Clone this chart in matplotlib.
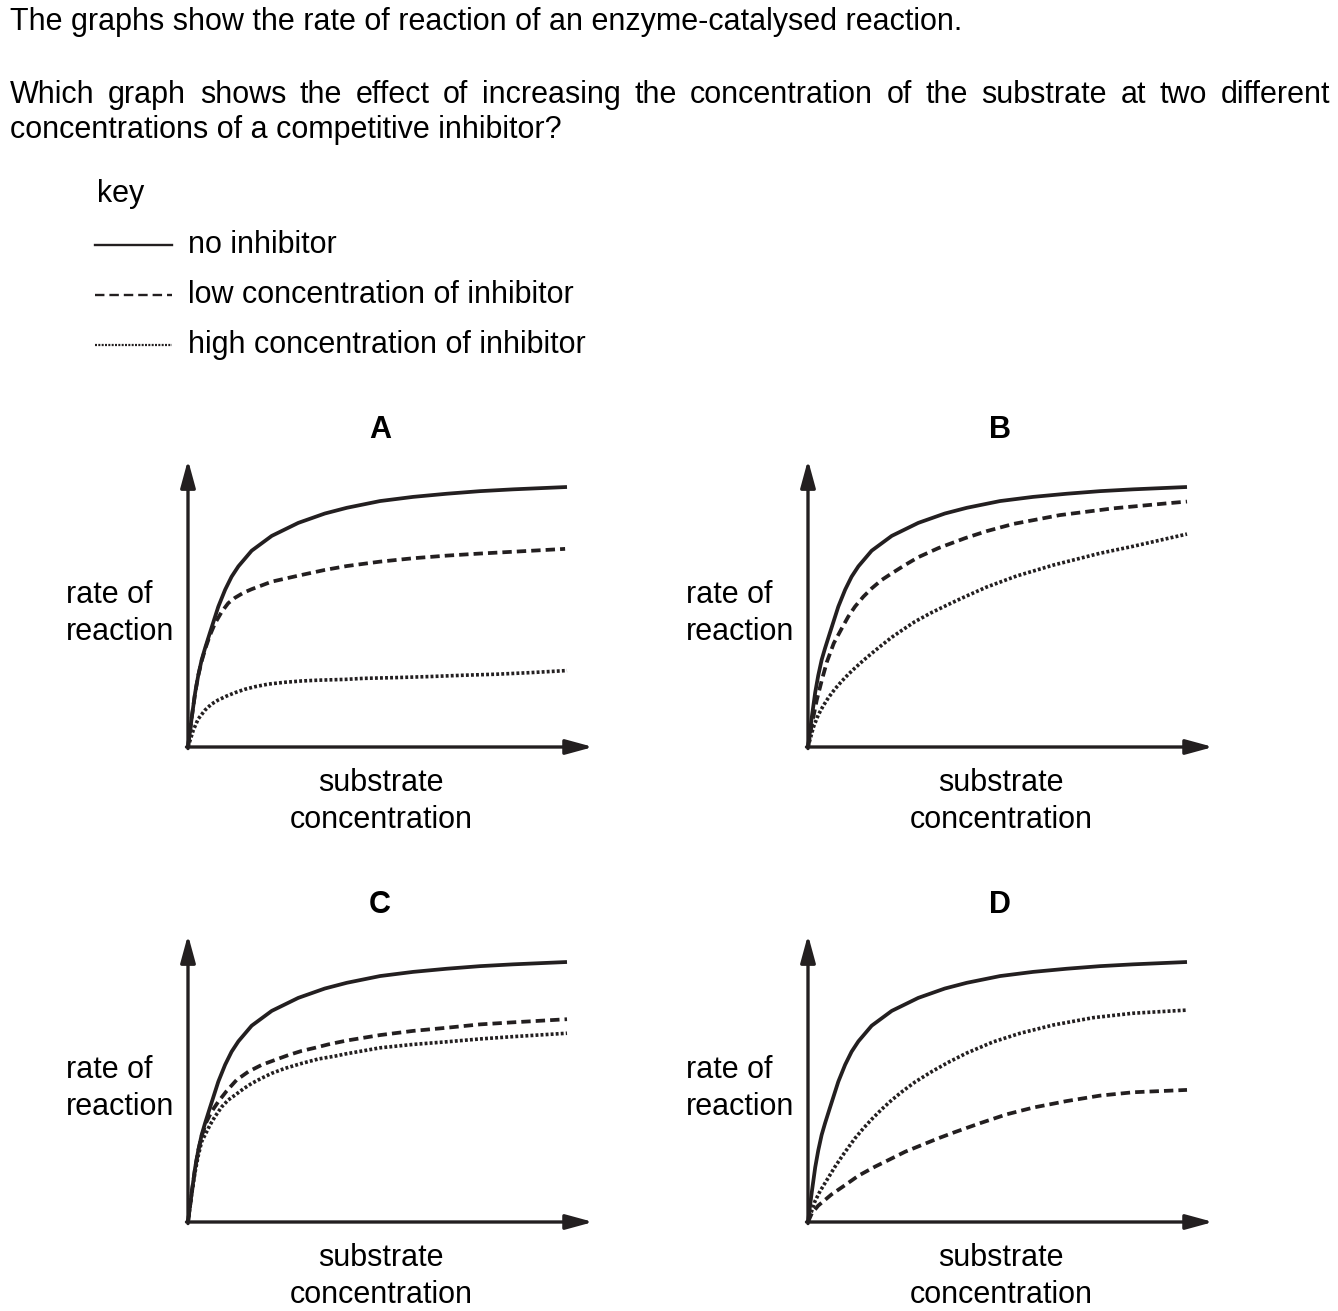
import matplotlib.pyplot as plt

plt.rcParams["font.family"] = ["Liberation Sans", "DejaVu Sans"]

W, H = 1338, 1311
INK = "#231f20"
FONT_SIZE = 22

INTRO = "The graphs show the rate of reaction of an enzyme-catalysed reaction."
QUESTION_1 = "Which graph shows the effect of increasing the concentration of the substrate at two different"
QUESTION_2 = "concentrations of a competitive inhibitor?"
KEY_LABELS = [
    "no inhibitor",
    "low concentration of inhibitor",
    "high concentration of inhibitor",
]
PANEL_NAMES = ["A", "B", "C", "D"]

# curves: (substrate concentration, rate), both on a 0-100 scale
NO_INHIBITOR = [
    (0, 0), (1.0, 11.5), (1.9, 21), (2.7, 27.5), (3.6, 33.5), (4.5, 38),
    (5.8, 44), (8.0, 54), (9.8, 60.5), (11.5, 65.5), (13.3, 69.5),
    (16.8, 75.5), (22.1, 81.2), (29.1, 86.2), (36.1, 89.8), (41.9, 92),
    (50.7, 94.6), (59.4, 96.2), (68.2, 97.4), (77.0, 98.4), (85.8, 99.1),
    (100, 100),
]

A_LOW = [
    (0, 0), (1.0, 11.5), (1.9, 21), (2.7, 27.5), (3.6, 33), (4.6, 38),
    (5.8, 43), (7.1, 47.5), (8.9, 52), (10.6, 55.3), (12.4, 57.4),
    (14.6, 59.3), (16.8, 60.7), (22.1, 63.6), (29.1, 65.9), (36.1, 68.1),
    (41.9, 69.6), (50.7, 71.3), (59.4, 72.6), (68.2, 73.6), (77.0, 74.4),
    (85.8, 75.1), (99.5, 76.2),
]
A_HIGH = [
    (0, 0), (1.4, 6.5), (2.7, 10.8), (4.5, 14.2), (6.2, 16.5), (8.0, 18.1),
    (10.2, 19.6), (12.4, 20.9), (15.0, 22.2), (17.7, 23.2), (21.2, 24.2),
    (25.6, 24.9), (30.0, 25.4), (34.4, 25.7), (41.4, 26), (46.3, 26.4),
    (55.1, 26.7), (63.9, 27.1), (72.7, 27.6), (81.5, 28), (90.3, 28.6),
    (100, 29.4),
]

B_LOW = [
    (0, 0), (1.0, 8.5), (2.3, 18), (3.7, 26), (5.0, 32.8), (6.8, 39.9),
    (8.9, 45.6), (10.6, 50.1), (12.4, 54), (14.6, 57.8), (16.8, 61),
    (19.4, 64.2), (22.1, 66.8), (25.6, 70), (29.1, 73), (34.4, 76.5),
    (41.4, 80.3), (47.1, 83), (54.2, 85.8), (66.5, 89.2), (80.6, 91.8),
    (94.6, 93.7), (100, 94.4),
]
B_HIGH = [
    (0, 0), (1.4, 7.5), (2.7, 12.3), (4.0, 15.8), (5.4, 19), (7.1, 22.3),
    (8.9, 25.3), (10.6, 27.9), (12.4, 30.4), (14.6, 33.3), (16.8, 36),
    (19.4, 39.1), (22.1, 42.2), (24.7, 44.8), (28.2, 48.2), (32.6, 51.7),
    (37.0, 54.8), (41.4, 57.8), (47.1, 61.5), (55.1, 65.8), (64.8, 70),
    (77.0, 74.5), (85.8, 77.2), (100, 81.9),
]

C_LOW = [
    (0, 0), (1.0, 11.5), (1.9, 21), (2.7, 27.5), (3.6, 33), (4.9, 38.6),
    (6.2, 42.4), (8.0, 46.3), (10.2, 50.4), (12.8, 54.6), (15.9, 57.8),
    (19.4, 60.4), (22.9, 62.3), (26.5, 64.2), (30.0, 65.8), (33.5, 67),
    (37.0, 68.3), (41.9, 69.8), (50.7, 71.9), (59.4, 73.5), (68.2, 74.7),
    (77.0, 76), (85.8, 76.8), (100, 78),
]
C_HIGH = [
    (0, 0), (1.0, 11), (1.9, 19.5), (2.7, 25.5), (3.6, 30.9), (4.5, 33.5),
    (5.8, 37.3), (7.1, 40.5), (8.9, 44.3), (10.6, 46.9), (12.4, 48.8),
    (14.6, 51.2), (16.8, 53.3), (19.4, 55.3), (22.1, 57.2), (25.6, 59.1),
    (30.0, 61), (34.4, 62.7), (38.8, 63.8), (41.4, 64.6), (50.7, 67),
    (59.4, 68.3), (68.2, 69.3), (77.0, 70.4), (85.8, 71.3), (100, 72.6),
]

D_LOW = [
    (0, 0), (1.0, 3.3), (2.7, 6.3), (6.2, 10.6), (9.8, 14.2), (13.3, 17.8),
    (17.7, 21.3), (21.2, 23.8), (25.6, 27), (30.0, 29.6), (34.4, 32.2),
    (38.8, 34.6), (45.4, 38), (52.4, 41.4), (59.4, 44), (68.2, 46.5),
    (77.0, 48.6), (85.8, 49.9), (100, 50.8),
]
D_HIGH = [
    (0, 0), (1.85, 8), (3.2, 11.9), (4.5, 15), (5.8, 18.1), (7.1, 21.2),
    (8.9, 25.1), (10.6, 28.6), (12.4, 32.2), (14.6, 36), (16.8, 39.5),
    (19.4, 43.3), (22.1, 46.9), (24.7, 50), (28.2, 53.8), (32.6, 57.8),
    (37.0, 61.4), (41.9, 65), (48.9, 69.3), (56.0, 72.6), (64.8, 75.8),
    (75.3, 78.6), (85.8, 80.3), (100, 81.5),
]

PANEL_CURVES = {
    "A": (A_LOW, A_HIGH),
    "B": (B_LOW, B_HIGH),
    "C": (C_LOW, C_HIGH),
    "D": (D_LOW, D_HIGH),
}

# axis origins in pixels, and pixel scale of the 0-100 data range
ORIGINS = {"A": (188, 747), "B": (808, 747), "C": (188, 1222), "D": (808, 1222)}
PX_X, PX_Y = 3.79, 2.6
X_TIP, Y_TIP = 106.9, 110.4

SOLID = dict(color=INK, lw=2.7, solid_capstyle="butt", solid_joinstyle="round")
DASHED = dict(color=INK, lw=2.7, dashes=(2.5, 1.35), dash_capstyle="butt")
DOTTED = dict(color=INK, lw=2.6, dashes=(0.8, 0.6), dash_capstyle="butt")


def fx(px):
    return px / W


def fy(py):
    return 1 - py / H


def put_text(fig, x, y, s, **kw):
    kw.setdefault("fontsize", FONT_SIZE)
    kw.setdefault("color", "black")
    kw.setdefault("va", "baseline")
    return fig.text(fx(x), fy(y), s, **kw)


def justified_line(fig, text, x0, x1, y):
    renderer = fig.canvas.get_renderer()
    words = text.split()
    items = [put_text(fig, x0, y, w) for w in words]
    widths = [t.get_window_extent(renderer).width for t in items]
    gap = (x1 - x0 - sum(widths)) / (len(words) - 1)
    x = x0
    for t, w in zip(items, widths):
        t.set_x(fx(x))
        x += w + gap


def draw_key(fig):
    put_text(fig, 97, 202, "key")
    styles = [
        dict(color=INK, lw=1.7),
        dict(color=INK, lw=1.7, dashes=(4.0, 2.1)),
        dict(color=INK, lw=1.6, dashes=(0.9, 0.6)),
    ]
    for i, (label, style) in enumerate(zip(KEY_LABELS, styles)):
        y = 245 + 50 * i
        fig.add_artist(plt.Line2D([fx(95), fx(172)], [fy(y), fy(y)], **style))
        put_text(fig, 188, y + 8, label)


def draw_panel(fig, name):
    ox, oy = ORIGINS[name]
    ax = fig.add_axes([fx(ox), fy(oy), X_TIP * PX_X / W, Y_TIP * PX_Y / H])
    ax.set_xlim(0, X_TIP)
    ax.set_ylim(0, Y_TIP)
    ax.axis("off")

    low, high = PANEL_CURVES[name]
    for curve, style in [(high, DOTTED), (low, DASHED), (NO_INHIBITOR, SOLID)]:
        xs, ys = zip(*curve)
        ax.plot(xs, ys, clip_on=False, **style)

    arrow = dict(
        arrowstyle="-|>,head_length=1.65,head_width=0.45",
        color=INK, lw=2.4, shrinkA=0, shrinkB=0, mutation_scale=10,
    )
    ax.annotate("", xy=(0, Y_TIP), xytext=(0, -0.6), arrowprops=arrow,
                annotation_clip=False)
    ax.annotate("", xy=(X_TIP, 0), xytext=(-0.4, 0), arrowprops=arrow,
                annotation_clip=False)

    dx, dy = ox - 188, oy - 747
    put_text(fig, 380 + dx, 438 + dy, name, ha="center", fontweight="bold")
    put_text(fig, 66 + dx, 603 + dy, "rate of")
    put_text(fig, 66 + dx, 640 + dy, "reaction")
    put_text(fig, 381 + dx, 791 + dy, "substrate", ha="center")
    put_text(fig, 381 + dx, 828 + dy, "concentration", ha="center")


def main():
    fig = plt.figure(figsize=(W / 100, H / 100), dpi=100)

    put_text(fig, 10, 30, INTRO)
    justified_line(fig, QUESTION_1, 10, 1330, 103)
    put_text(fig, 10, 138, QUESTION_2)

    draw_key(fig)
    for name in PANEL_NAMES:
        draw_panel(fig, name)

    fig.savefig("out.png", dpi=100)


if __name__ == "__main__":
    main()
